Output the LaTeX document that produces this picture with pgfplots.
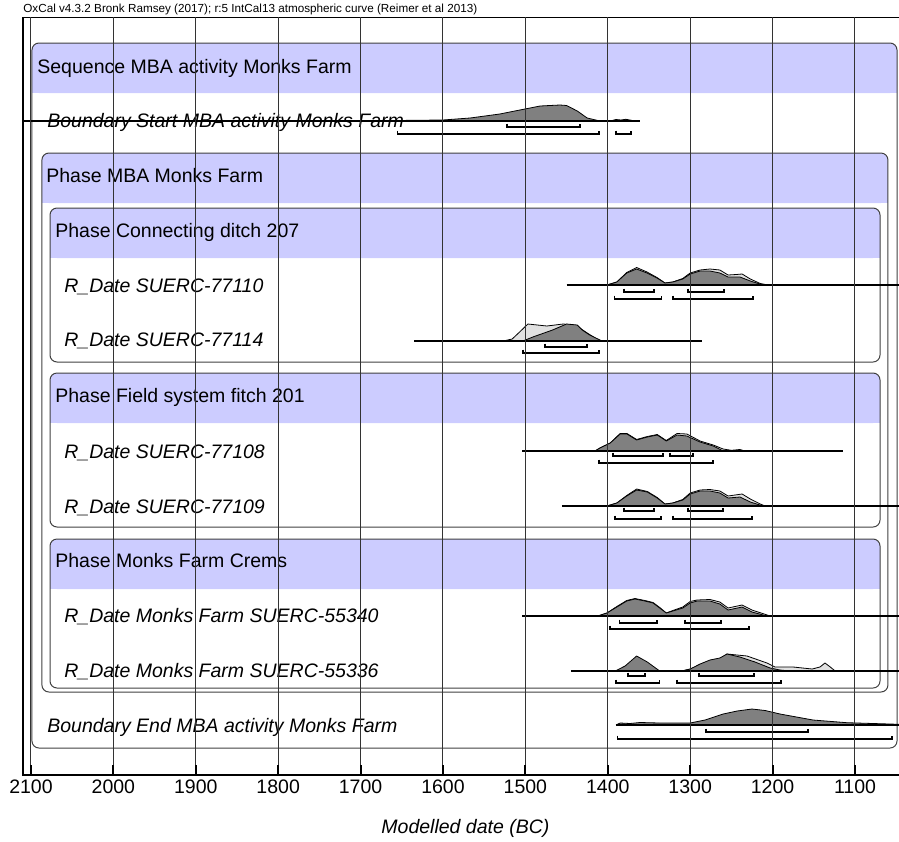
\documentclass[border=0pt]{standalone}
\usepackage{pgfplots}
\pgfplotsset{compat=1.18}
\usepackage{fontspec}
\setmainfont{Liberation Sans}
\definecolor{lav}{RGB}{204,204,255}
\definecolor{dg}{RGB}{128,128,128}
\definecolor{lg}{RGB}{225,225,225}
\definecolor{boxc}{RGB}{64,64,64}
\newcommand{\fs}{\fontsize{9.75}{11}\selectfont}
% bracket: x1, x2, y, ytop
\newcommand{\brk}[4]{\addplot[black, line width=0.8pt] coordinates {(#1,#4) (#1,#3) (#2,#3) (#2,#4)};}
% box: L, R, top, bandbottom, bandinner, bottom
\newcommand{\pbox}[6]{%
  \fill[lav, rounded corners=3.5pt] (axis cs:#1,#3) rectangle (axis cs:#2,#4);
  \fill[lav] (axis cs:#1,#5) rectangle (axis cs:#2,#4);
  \draw[boxc, line width=0.5pt, rounded corners=3.5pt] (axis cs:#1,#3) rectangle (axis cs:#2,#6);}
\begin{document}
\begin{tikzpicture}[font=\fs]
\begin{axis}[
  width=438pt, height=379pt, scale only axis,
  x dir=reverse, xmin=1046.6, xmax=2109.7,
  y dir=reverse, ymin=17, ymax=775,
  axis line style={draw=none},
  xtick={1100,1200,...,2100},
  ytick=\empty,
  xtick pos=lower, xticklabel pos=lower,
  xmajorgrids, major grid style={black!80, line width=0.5pt},
  tick align=inside, major tick length=5pt,
  every tick/.style={black, line width=1pt},
  xticklabel style={font=\fs, inner sep=0pt, yshift=-2pt},
  /pgf/number format/1000 sep={},
  /pgf/number format/assume math mode=true,
  axis on top,
  clip=false,
]
% ---- boxes ----
\pbox{2098.8}{1049}{43}{93}{53}{748}
\pbox{2086.7}{1060}{153}{203}{163}{692}
\pbox{2076.9}{1069.6}{208}{258}{218}{362}
\pbox{2076.9}{1069.6}{373}{423}{383}{527}
\pbox{2076.9}{1069.6}{539}{589}{549}{688}

% ---- labels ----
\tikzset{lbl/.style={anchor=base west, inner sep=0pt, font=\fs}}
\node[lbl] at (axis cs:2092.7,73) {Sequence MBA activity Monks Farm};
\node[lbl] at (axis cs:2081.8,182) {Phase MBA Monks Farm};
\node[lbl] at (axis cs:2070.9,237) {Phase Connecting ditch 207};
\node[lbl] at (axis cs:2070.9,402) {Phase Field system fitch 201};
\node[lbl] at (axis cs:2070.9,567) {Phase Monks Farm Crems};
\node[lbl, font=\fs\itshape] at (axis cs:2080.6,127) {Boundary Start MBA activity Monks Farm};
\node[lbl, font=\fs\itshape] at (axis cs:2060,292) {R\_Date SUERC-77110};
\node[lbl, font=\fs\itshape] at (axis cs:2060,346) {R\_Date SUERC-77114};
\node[lbl, font=\fs\itshape] at (axis cs:2060,458) {R\_Date SUERC-77108};
\node[lbl, font=\fs\itshape] at (axis cs:2060,513) {R\_Date SUERC-77109};
\node[lbl, font=\fs\itshape] at (axis cs:2060,622) {R\_Date Monks Farm SUERC-55340};
\node[lbl, font=\fs\itshape] at (axis cs:2060,677) {R\_Date Monks Farm SUERC-55336};
\node[lbl, font=\fs\itshape] at (axis cs:2080.6,732) {Boundary End MBA activity Monks Farm};

% ---- Boundary Start ----
\addplot[fill=dg, draw=black, line width=0.4pt] coordinates {(1774,121) (1680,120.7) (1600,120) (1567,118) (1531,114) (1500.5,109) (1482,106) (1458,105) (1450,105.5) (1437,111) (1425,118) (1409.5,121)};
\addplot[fill=dg, draw=black, line width=0.4pt] coordinates {(1397,121) (1390,119.5) (1384,120) (1378,119.3) (1370,120.5) (1365,121)};
\addplot[black, line width=0.9pt] coordinates {(2109.7,121) (1361,121)};
\brk{1522}{1434}{127}{123.5}
\brk{1655}{1411}{134}{130.5}
\brk{1390}{1372}{134}{130.5}

% ---- SUERC-77110 ----
\addplot[fill=lg, draw=black, line width=0.4pt] coordinates {(1401,285) (1389,282) (1377,272.5) (1365,267.5) (1352.4,272) (1340.3,277.5) (1330.6,283) (1321,282) (1309,278.5) (1300,273) (1288,270) (1276,269) (1264,270) (1254,275) (1244,274.5) (1237,274) (1227,279) (1215,283.5) (1205.6,285)};
\addplot[fill=dg, draw=black, line width=0.4pt] coordinates {(1401,285) (1389,282) (1377,273) (1365,269) (1352.4,273) (1340.3,278) (1330.6,283) (1321,282) (1309,279) (1300,274) (1288,271) (1276,271) (1264,273) (1254,277) (1239.6,277) (1227,281) (1211.6,285)};
\addplot[black, line width=0.9pt] coordinates {(1450,285) (1046.6,285)};
\brk{1380}{1344}{292}{288.5}
\brk{1303}{1259}{292}{288.5}
\brk{1392}{1335}{299}{295.5}
\brk{1321}{1224}{299}{295.5}

% ---- SUERC-77114 ----
\addplot[fill=lg, draw=black, line width=0.4pt] coordinates {(1527,341) (1516,339) (1507,332) (1497,324) (1474,326) (1454,324) (1442,325) (1434,328) (1425,333) (1409.5,341)};
\addplot[fill=dg, draw=black, line width=0.4pt] coordinates {(1503,341) (1491,337) (1467,330) (1450,324) (1437,325) (1431,330) (1422,335) (1407,341)};
\addplot[black, line width=0.9pt] coordinates {(1635,341) (1286,341)};
\brk{1476}{1425}{347}{343.5}
\brk{1503}{1411}{353}{349.5}

% ---- SUERC-77108 ----
\addplot[fill=lg, draw=black, line width=0.4pt] coordinates {(1415.5,451) (1409.5,448) (1397,443) (1385,433.5) (1376.7,433.5) (1365,439.5) (1352,436.5) (1340,434.5) (1329,440.5) (1316,433.5) (1304,434) (1288,441) (1272,445) (1260,449) (1250,450.3) (1239.6,449.5) (1233.5,451)};
\addplot[fill=dg, draw=black, line width=0.4pt] coordinates {(1415.5,451) (1409.5,448) (1397,443) (1385,434) (1376.7,434) (1365,440) (1352,437) (1340,435) (1329,441) (1316,435) (1304,436) (1288,442) (1272,446) (1260,451)};
\addplot[black, line width=0.9pt] coordinates {(1504,451) (1114.6,451)};
\brk{1393.7}{1333}{456}{452.5}
\brk{1324.5}{1296.6}{456}{452.5}
\brk{1410.7}{1272.3}{463}{459.5}

% ---- SUERC-77109 ----
\addplot[fill=lg, draw=black, line width=0.4pt] coordinates {(1401,506) (1389,503) (1377,495.5) (1365,489) (1352,491.5) (1340,497.5) (1330.6,504) (1321,503) (1309,499.5) (1300,493) (1288,490) (1276,489.5) (1264,491) (1254,496) (1237,494) (1227,499) (1215,504) (1209,506)};
\addplot[fill=dg, draw=black, line width=0.4pt] coordinates {(1401,506) (1389,503) (1377,496) (1365,490) (1352,492) (1340,498) (1330.6,504) (1321,503) (1309,500) (1300,494) (1288,491) (1276,491) (1264,493) (1254,498) (1239.6,497) (1227,502) (1211.6,506)};
\addplot[black, line width=0.9pt] coordinates {(1455.6,506) (1046.6,506)};
\brk{1380}{1344}{511}{507.5}
\brk{1303}{1260}{511}{507.5}
\brk{1391}{1335.4}{519}{515.5}
\brk{1321}{1225}{519}{515.5}

% ---- SUERC-55340 ----
\addplot[fill=lg, draw=black, line width=0.4pt] coordinates {(1412,616) (1401,613) (1389,606.5) (1377,600.5) (1367,598.5) (1355,600.5) (1345,602.5) (1337,607.5) (1329,613) (1321,610.5) (1309,607) (1300,601.5) (1291.7,600) (1276,599.5) (1264,602) (1254,608) (1237,605) (1225,610) (1203,616)};
\addplot[fill=dg, draw=black, line width=0.4pt] coordinates {(1412,616) (1401,613) (1389,607) (1377,601) (1367,599) (1355,601) (1345,603) (1337,608) (1329,613) (1321,611) (1309,608) (1300,603) (1291.7,601) (1276,601) (1264,604) (1254,610) (1237,607) (1225,612) (1206.8,616)};
\addplot[black, line width=0.9pt] coordinates {(1504,616) (1046.6,616)};
\brk{1386}{1340}{623}{619.5}
\brk{1306.3}{1262.6}{623}{619.5}
\brk{1397}{1228.6}{629}{625.5}

% ---- SUERC-55336 ----
\addplot[fill=lg, draw=black, line width=0.4pt] coordinates {(1391,671) (1379,669) (1365,665) (1349,667) (1337,671)};
\addplot[fill=lg, draw=black, line width=0.4pt] coordinates {(1310,671) (1300,669) (1288,665) (1264,659) (1255.3,654) (1231,656) (1206.8,663) (1197,667) (1175,667) (1152,669) (1142.5,667) (1136.4,663) (1130,667) (1124,671)};
\addplot[fill=dg, draw=black, line width=0.4pt] coordinates {(1391,671) (1379,666) (1365,656) (1352,662) (1337,671)};
\addplot[fill=dg, draw=black, line width=0.4pt] coordinates {(1310,671) (1300,669) (1288,664) (1276,660) (1264,658) (1255.3,654) (1239.6,657) (1221.3,662) (1203,668) (1191,670) (1179,671)};
\addplot[black, line width=0.9pt] coordinates {(1444.7,671) (1046.6,671)};
\brk{1375.5}{1355}{676}{672.5}
\brk{1289.3}{1222.6}{676}{672.5}
\brk{1390}{1337}{683}{679.5}
\brk{1316}{1189.8}{683}{679.5}

% ---- Boundary End ----
\addplot[fill=dg, draw=black, line width=0.4pt] coordinates {(1390,725) (1385,723) (1373,723.5) (1361,722.5) (1337,723) (1300,723) (1282,720) (1260,714) (1243,711) (1225,709) (1209,710.5) (1191,714) (1151,720) (1109.7,722.7) (1046.6,724.3) (1046.6,725)};
\addplot[black, line width=0.9pt] coordinates {(1390,725) (1046.6,725)};
\brk{1281}{1157}{732}{728.5}
\brk{1388}{1055}{739}{735.5}

% ---- frame ----
\draw[black, line width=1pt] (axis cs:2109.7,17) -- (axis cs:2109.7,775) -- (axis cs:1046.6,775);
\draw[black, line width=0.5pt] (axis cs:2109.7,17) -- (axis cs:1046.6,17);

% ---- titles ----
\node[anchor=base west, inner sep=0pt, font=\fontsize{5.85}{7}\selectfont] at (axis cs:2109.7,12.5) {OxCal v4.3.2 Bronk Ramsey (2017); r:5 IntCal13 atmospheric curve (Reimer et al 2013)};
\node[anchor=base, inner sep=0pt, font=\fs\itshape] at (axis cs:1572.7,833) {Modelled date (BC)};

\coordinate (bbA) at (axis cs:2137.6,0);
\coordinate (bbB) at (axis cs:1046.6,841);
\end{axis}
\pgfresetboundingbox
\path[use as bounding box] (bbA) rectangle (bbB);
\end{tikzpicture}
\end{document}
